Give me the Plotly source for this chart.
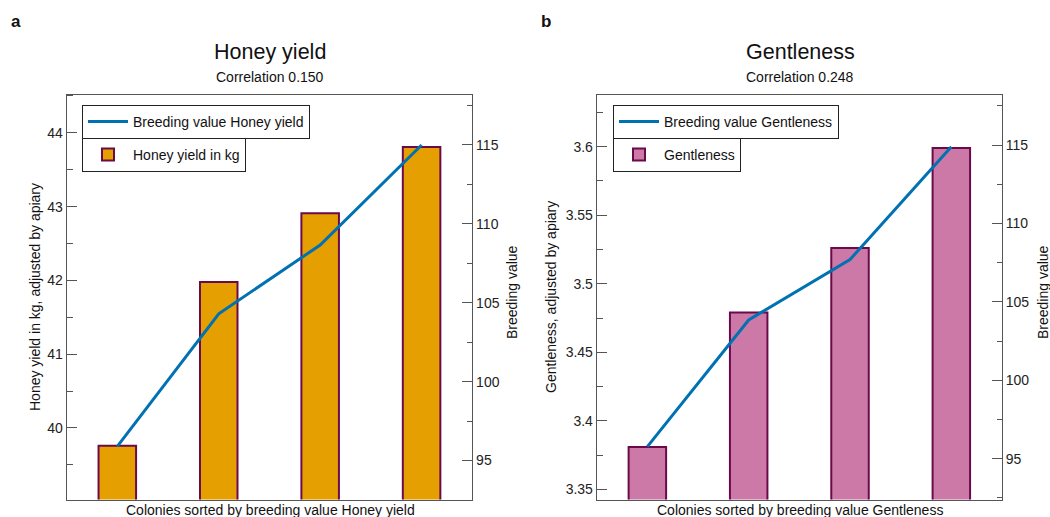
import plotly.graph_objects as go

colonies = [1, 2, 3, 4]
honey_yield = [39.76, 41.98, 42.91, 43.81]
honey_bv = [95.9, 104.3, 108.66, 115.0]
gentleness = [3.381, 3.479, 3.526, 3.599]
gentle_bv = [95.77, 103.85, 107.7, 114.9]

FONT = "Liberation Sans, Arial, sans-serif"
ORANGE = "#E69F00"
PINK = "#CC79A7"
EDGE = "#6B0A4B"
BLUE = "#0072B2"
AX = "#555555"

fig = go.Figure()

fig.add_trace(go.Scatter(x=colonies, y=honey_bv, mode="lines", name="Breeding value Honey yield",
                         line=dict(color=BLUE, width=3), xaxis="x", yaxis="y2", legend="legend",
                         showlegend=True))
fig.add_trace(go.Bar(x=colonies, y=honey_yield, width=0.37, name="Honey yield in kg",
                     marker=dict(color=ORANGE, line=dict(color=EDGE, width=2)),
                     xaxis="x", yaxis="y", legend="legend2", showlegend=True))
fig.add_trace(go.Scatter(x=colonies, y=gentle_bv, mode="lines", name="Breeding value Gentleness",
                         line=dict(color=BLUE, width=3), xaxis="x2", yaxis="y4", legend="legend3",
                         showlegend=True))
fig.add_trace(go.Bar(x=colonies, y=gentleness, width=0.37, name="Gentleness",
                     marker=dict(color=PINK, line=dict(color=EDGE, width=2)),
                     xaxis="x2", yaxis="y3", legend="legend4", showlegend=True))

W, H = 1050, 517
L1, R1 = 66.6 / W, 472.3 / W
L2, R2 = 596.7 / W, 1002 / W
B, T = 1 - 499.5 / H, 1 - 94.5 / H

xcommon = dict(range=[0.5, 4.5], showticklabels=False, ticks="", showgrid=False, zeroline=False,
               showline=True, linecolor=AX, linewidth=1, mirror=True)
ycommon = dict(showgrid=False, zeroline=False, showline=True, linecolor=AX, linewidth=1,
               ticks="inside", ticklen=10, tickcolor=AX, tickfont=dict(size=14, color="#222"))

legcommon = dict(bgcolor="white", bordercolor="#222", borderwidth=1, font=dict(size=14, family=FONT, color="#111"),
                 xanchor="left", yanchor="top", itemwidth=40, tracegroupgap=0, visible=True)

fig.update_layout(
    width=W, height=H, margin=dict(l=0, r=0, t=0, b=0),
    paper_bgcolor="white", plot_bgcolor="white",
    font=dict(family=FONT, size=14, color="#111"),
    barmode="overlay", showlegend=True,
    xaxis=dict(domain=[L1, R1], anchor="y", **xcommon),
    xaxis2=dict(domain=[L2, R2], anchor="y3", **xcommon),
    yaxis=dict(domain=[B, T], anchor="x", range=[39.03, 44.52], dtick=1,
               minor=dict(dtick=0.5, ticks="inside", ticklen=6, tickcolor=AX), **ycommon),
    yaxis2=dict(overlaying="y", side="right", anchor="x", range=[92.53, 118.2], dtick=5,
                minor=dict(dtick=2.5, ticks="inside", ticklen=5, tickcolor=AX), **ycommon),
    yaxis3=dict(domain=[B, T], anchor="x2", range=[3.3427, 3.638], dtick=0.05, tickformat="~g",
                minor=dict(dtick=0.025, ticks="inside", ticklen=6, tickcolor=AX), **ycommon),
    yaxis4=dict(overlaying="y3", side="right", anchor="x2", range=[92.4, 118.23], dtick=5,
                minor=dict(dtick=2.5, ticks="inside", ticklen=5, tickcolor=AX), **ycommon),
    legend=dict(x=82 / W, y=1 - 105 / H, **legcommon),
    legend2=dict(x=82 / W, y=1 - 138 / H, **legcommon),
    legend3=dict(x=613 / W, y=1 - 105 / H, **legcommon),
    legend4=dict(x=613 / W, y=1 - 138 / H, **legcommon),
)

def ann(text, x, y, size=14, angle=0, **kw):
    fig.add_annotation(text=text, x=x / W, y=1 - y / H, xref="paper", yref="paper",
                       showarrow=False, textangle=angle, font=dict(size=size, family=FONT, color="#111"),
                       xanchor="center", yanchor="middle", **kw)

ann("<b>a</b>", 16, 22, size=17)
ann("<b>b</b>", 546, 22, size=17)
ann("Honey yield", 270, 52, size=21.5)
ann("Correlation 0.150", 270, 77, size=14)
ann("Gentleness", 800, 52, size=21.5)
ann("Correlation 0.248", 800, 77, size=14)
ann("Colonies sorted by breeding value Honey yield", 270, 510, size=14)
ann("Colonies sorted by breeding value Gentleness", 800, 510, size=14)
ann("Honey yield in kg, adjusted by apiary", 35, 297, size=14, angle=-90)
ann("Breeding value", 512, 292, size=14, angle=-90)
ann("Gentleness, adjusted by apiary", 551, 297, size=14, angle=-90)
ann("Breeding value", 1043, 292, size=14, angle=-90)

fig.write_html("out.html", config={"displayModeBar": False},
               post_script="document.body.style.margin='0px';document.body.style.overflow='hidden';")
